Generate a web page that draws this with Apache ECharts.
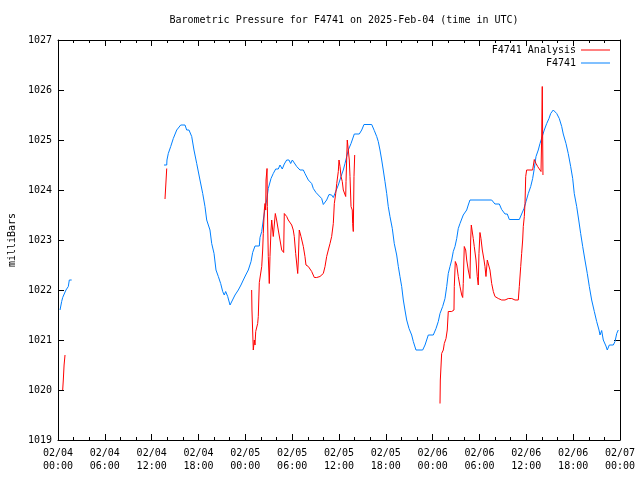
<!DOCTYPE html>
<html>
<head>
<meta charset="utf-8">
<script src="https://cdn.jsdelivr.net/npm/echarts@6/dist/echarts.min.js"></script>
<style>html,body{margin:0;padding:0;background:#fff}#c{width:640px;height:480px}</style>
</head>
<body>
<div id="c"></div>
<script>
// Hours since 2025-02-04 00:00 UTC
const stationHoursA = [0.26,0.47,0.60,1.02,1.32,1.45,1.75];
const stationValuesA = [1021.6,1021.77,1021.85,1022.0,1022.07,1022.2,1022.2];
const stationHoursB = [13.58,13.93,13.96,14.13,14.44,14.77,15.21,15.72,16.27,16.49,16.78,17.13,17.42,17.77,18.19,18.54,18.83,19.05,19.47,19.69,19.99,20.24,20.54,20.84,21.10,21.30,21.48,21.74,22.04,22.25,22.68,23.10,23.44,23.74,24.05,24.38,24.73,24.94,25.24,25.79,25.88,26.10,26.30,26.52,26.74,26.94,27.29,27.58,27.89,28.22,28.44,28.73,28.99,29.30,29.59,29.81,30.02,30.27,30.58,31.00,31.43,31.64,32.07,32.50,32.71,33.05,33.35,33.78,33.99,34.42,34.72,35.06,35.27,35.58,35.91,36.26,36.55,36.77,36.99,37.19,37.54,37.96,38.60,38.91,39.20,40.19,40.52,40.83,41.03,41.25,41.47,41.67,41.89,42.11,42.31,42.53,42.83,43.08,43.39,43.60,43.81,44.03,44.24,44.45,44.67,44.97,45.31,45.52,45.86,46.72,47.02,47.23,47.44,48.08,48.43,48.72,48.94,49.28,49.58,49.80,50.00,50.22,50.44,50.64,50.86,51.08,51.28,51.50,51.72,51.92,52.36,52.56,52.78,55.56,55.98,56.54,56.84,57.27,57.56,57.82,59.10,59.40,59.70,59.96,60.25,60.56,60.81,61.02,61.24,61.53,61.75,62.04,62.30,62.61,62.90,63.12,63.45,63.89,64.22,64.53,64.73,65.08,65.37,65.68,65.94,66.14,66.45,66.71,66.96,67.22,67.51,67.81,68.07,68.37,68.71,69.01,69.31,69.44,69.65,69.86,70.20,70.37,70.63,71.14,71.36,71.58,71.78];
const stationValuesB = [1024.5,1024.5,1024.6,1024.73,1024.87,1025.03,1025.2,1025.3,1025.3,1025.2,1025.2,1025.07,1024.8,1024.53,1024.2,1023.93,1023.67,1023.4,1023.2,1022.93,1022.73,1022.4,1022.27,1022.13,1021.97,1021.9,1021.97,1021.87,1021.7,1021.7,1021.9,1022.0,1022.1,1022.2,1022.3,1022.4,1022.57,1022.75,1022.88,1022.88,1023.05,1023.17,1023.4,1023.63,1023.8,1024.03,1024.23,1024.33,1024.42,1024.42,1024.5,1024.42,1024.52,1024.6,1024.6,1024.53,1024.6,1024.57,1024.47,1024.4,1024.4,1024.33,1024.2,1024.13,1024.03,1023.95,1023.9,1023.83,1023.71,1023.8,1023.91,1023.9,1023.85,1023.97,1024.1,1024.27,1024.4,1024.53,1024.67,1024.8,1024.93,1025.12,1025.12,1025.2,1025.31,1025.31,1025.19,1025.07,1024.97,1024.8,1024.6,1024.4,1024.17,1023.93,1023.67,1023.47,1023.23,1022.93,1022.7,1022.47,1022.27,1022.07,1021.8,1021.6,1021.4,1021.23,1021.1,1020.97,1020.8,1020.8,1020.9,1021.0,1021.1,1021.1,1021.23,1021.37,1021.53,1021.67,1021.83,1022.07,1022.33,1022.47,1022.6,1022.77,1022.87,1023.03,1023.23,1023.33,1023.37,1023.5,1023.6,1023.7,1023.8,1023.8,1023.72,1023.72,1023.61,1023.52,1023.52,1023.41,1023.41,1023.52,1023.63,1023.77,1023.93,1024.07,1024.23,1024.43,1024.67,1024.8,1024.93,1025.07,1025.2,1025.33,1025.43,1025.53,1025.6,1025.53,1025.43,1025.27,1025.12,1024.93,1024.73,1024.47,1024.23,1023.93,1023.67,1023.4,1023.13,1022.87,1022.6,1022.33,1022.07,1021.8,1021.57,1021.37,1021.2,1021.1,1021.19,1021.0,1020.88,1020.8,1020.9,1020.9,1020.97,1021.13,1021.2];

const analysisHoursA = [0.60,0.68,0.78,0.90];
const analysisValuesA = [1020.0,1020.2,1020.5,1020.7];
const analysisHoursB = [13.71,13.88,13.93];
const analysisValuesB = [1023.82,1023.83,1024.43];
const analysisHoursC = [24.81,24.85,25.02,25.15,25.24,25.33,25.58,25.66,25.79,26.01,26.10,26.22,26.30,26.43,26.52,26.61,26.65,26.78,26.82,26.94,27.07,27.16,27.29,27.38,27.58,27.71,27.84,28.01,28.22,28.44,28.66,28.91,28.99,29.30,29.50,29.94,30.14,30.27,30.45,30.71,30.79,30.91,31.13,31.43,31.64,31.77,32.07,32.50,32.84,33.14,33.56,33.99,34.21,34.42,34.63,34.85,35.06,35.27,35.40,35.58,35.71,35.91,36.00,36.13,36.26,36.42,36.55,36.86,36.90,37.02,37.06,37.19,37.32,37.41,37.54,37.70,37.75,37.83,37.92,38.01];
const analysisValuesC = [1022.0,1021.6,1020.8,1021.0,1020.9,1021.17,1021.33,1021.47,1022.15,1022.15,1022.47,1022.8,1023.13,1023.6,1023.73,1023.6,1024.2,1024.43,1023.67,1022.67,1022.13,1022.67,1023.2,1023.4,1023.07,1023.3,1023.53,1023.4,1023.2,1023.0,1022.8,1022.75,1023.53,1023.47,1023.4,1023.3,1023.2,1023.07,1022.73,1022.33,1022.6,1023.2,1023.07,1022.87,1022.67,1022.5,1022.47,1022.37,1022.25,1022.25,1022.27,1022.33,1022.47,1022.67,1022.8,1022.93,1023.07,1023.33,1023.73,1023.93,1024.13,1024.37,1024.6,1024.47,1024.27,1024.17,1024.0,1023.87,1024.17,1024.8,1025.0,1024.8,1024.6,1024.27,1023.67,1023.6,1023.33,1023.17,1024.27,1024.7];
const analysisHoursD = [48.94,48.98,49.11,49.15,49.36,49.49,49.71,49.87,50.00,50.44,50.73,50.77,50.90,51.08,51.28,51.50,51.72,51.85,51.92,52.05,52.23,52.36,52.56,52.69,52.78,52.87,52.95,53.08,53.20,53.33,53.55,53.71,53.84,53.93,54.06,54.19,54.36,54.58,54.70,54.83,55.00,55.13,55.34,55.56,55.77,55.98,56.41,56.84,57.27,57.69,58.13,58.55,58.97,59.10,59.28,59.40,59.53,59.61,59.74,59.83,59.92,60.04,60.81,61.02,61.24,61.45,61.66,61.88,61.97,62.04,62.13];
const analysisValuesD = [1019.73,1020.2,1020.2,1020.73,1020.8,1020.93,1021.03,1021.2,1021.57,1021.57,1021.6,1022.07,1022.57,1022.5,1022.27,1022.07,1021.9,1021.85,1022.13,1022.87,1022.8,1022.6,1022.4,1022.3,1022.23,1023.0,1023.3,1023.3,1023.03,1022.87,1022.6,1022.27,1022.1,1022.73,1023.15,1023.03,1022.8,1022.6,1022.47,1022.27,1022.6,1022.6,1022.4,1022.13,1021.97,1021.87,1021.83,1021.8,1021.8,1021.83,1021.83,1021.8,1021.8,1022.07,1022.47,1022.73,1023.0,1023.27,1023.47,1023.73,1024.27,1024.4,1024.4,1024.61,1024.53,1024.47,1024.43,1024.37,1025.1,1026.07,1024.3];

const xTickHours = [0,6,12,18,24,30,36,42,48,54,60,66,72];
const yTicks = [1019,1020,1021,1022,1023,1024,1025,1026,1027];

function buildSeries(segments) {
  const out = [];
  segments.forEach((seg, i) => {
    if (i > 0) out.push([seg[0][0] - 0.01, '-']);
    seg[0].forEach((h, j) => out.push([h, seg[1][j]]));
  });
  return out;
}
const stationData = buildSeries([[stationHoursA, stationValuesA],[stationHoursB, stationValuesB]]);
const analysisData = buildSeries([[analysisHoursA, analysisValuesA],[analysisHoursB, analysisValuesB],[analysisHoursC, analysisValuesC],[analysisHoursD, analysisValuesD]]);

const FONT = 'DejaVu Sans Mono';
function fmtHour(h) {
  const day = 4 + Math.floor(h / 24 + 1e-9);
  const hh = Math.round(h - (day - 4) * 24);
  return '02/' + String(day).padStart(2, '0') + '\n' + String(hh).padStart(2, '0') + ':00';
}

const chart = echarts.init(document.getElementById('c'), null, {renderer: 'canvas'});
const tickCommon = {show: true, inside: true, length: 6, lineStyle: {color: '#000', width: 1}};
chart.setOption({
  animation: false,
  backgroundColor: '#fff',
  title: {
    text: 'Barometric Pressure for F4741 on 2025-Feb-04 (time in UTC)',
    left: 339, top: 10, textAlign: 'center',
    textStyle: {fontFamily: FONT, fontSize: 10, fontWeight: 'normal', color: '#000'}
  },
  legend: {
    orient: 'vertical', right: 25, top: 40, align: 'right', itemGap: 3,
    itemWidth: 29, itemHeight: 1, icon: 'rect',
    textStyle: {fontFamily: FONT, fontSize: 10, color: '#000', width: 86, align: 'right', lineHeight: 10},
    data: ['F4741 Analysis', 'F4741']
  },
  grid: {left: 58, right: 20, top: 40, bottom: 40, show: false, containLabel: false, outerBoundsMode: 'none'},
  xAxis: [{
    type: 'value', min: 0, max: 72, interval: 6,
    axisLine: {show: true, onZero: false, lineStyle: {color: '#000', width: 1}},
    axisTick: Object.assign({}, tickCommon),
    minorTick: {show: true, splitNumber: 3, length: 3, lineStyle: {color: '#000'}},
    axisLabel: {fontFamily: FONT, fontSize: 10, color: '#000', margin: 7, lineHeight: 13, formatter: fmtHour},
    splitLine: {show: false}
  }, {
    type: 'value', min: 0, max: 72, interval: 6, position: 'top',
    axisLine: {show: true, onZero: false, lineStyle: {color: '#000', width: 1}},
    axisTick: Object.assign({}, tickCommon),
    minorTick: {show: true, splitNumber: 3, length: 3, lineStyle: {color: '#000'}},
    axisLabel: {show: false}, splitLine: {show: false}
  }],
  yAxis: [{
    type: 'value', min: yTicks[0], max: yTicks[yTicks.length - 1], interval: 1,
    name: 'milliBars', nameLocation: 'middle', nameGap: 41, nameRotate: 90,
    nameTextStyle: {fontFamily: FONT, fontSize: 10, color: '#000'},
    axisLine: {show: true, onZero: false, lineStyle: {color: '#000', width: 1}},
    axisTick: Object.assign({}, tickCommon),
    axisLabel: {fontFamily: FONT, fontSize: 10, color: '#000', margin: 6, formatter: v => String(v)},
    splitLine: {show: false}
  }, {
    type: 'value', min: yTicks[0], max: yTicks[yTicks.length - 1], interval: 1, position: 'right',
    axisLine: {show: true, onZero: false, lineStyle: {color: '#000', width: 1}},
    axisTick: Object.assign({}, tickCommon),
    axisLabel: {show: false}, splitLine: {show: false}
  }],
  series: [{
    name: 'F4741 Analysis', type: 'line', data: analysisData, showSymbol: false, symbol: 'none',
    connectNulls: false, lineStyle: {color: '#ff0000', width: 1}, itemStyle: {color: '#ff0000'}, z: 3
  }, {
    name: 'F4741', type: 'line', data: stationData, showSymbol: false, symbol: 'none',
    connectNulls: false, lineStyle: {color: '#0080ff', width: 1}, itemStyle: {color: '#0080ff'}, z: 2
  }]
});
</script>
</body>
</html>
